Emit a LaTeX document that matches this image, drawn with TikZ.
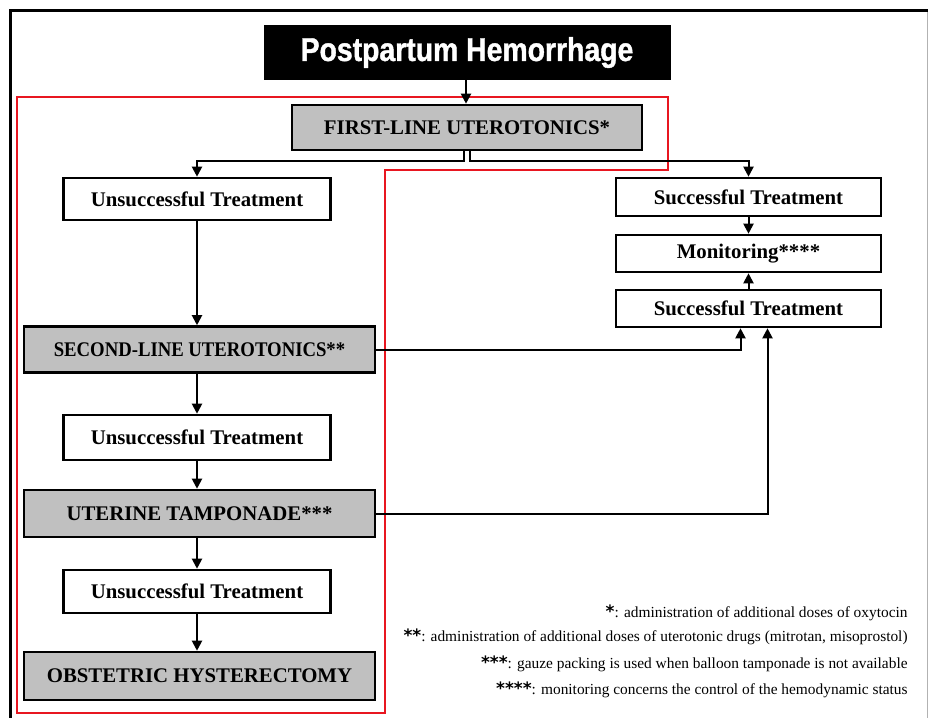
\documentclass[tikz,border=0pt]{standalone}
\usepackage{fontspec}
\setmainfont{Liberation Serif}
\newfontfamily\titlefont[FakeStretch=0.86,FakeBold=1.2]{Liberation Sans}
\newfontfamily\condfont[FakeStretch=0.9]{Liberation Serif}
\newfontfamily\astfont{DejaVu Sans}
\usetikzlibrary{positioning,arrows.meta}

\definecolor{boxgray}{RGB}{192,192,192}
\definecolor{framered}{RGB}{232,22,32}
\newcommand{\notemark}[1]{{\astfont\bfseries\fontsize{8.5}{8.5}\selectfont #1}}

\begin{document}
\begin{tikzpicture}[x=0.5pt,y=-0.5pt,
    box/.style={draw=black, line width=1.3pt, fill=white, inner sep=2pt,
        minimum width=133.5pt, minimum height=21pt,
        font=\fontsize{10.4}{12}\selectfont\bfseries},
    graybox/.style={box, fill=boxgray, minimum width=175.5pt, minimum height=23pt},
    arr/.style={line width=1pt, -{Triangle[length=5pt,width=5pt]}},
    note/.style={anchor=east, inner sep=0pt, font=\fontsize{7.7}{9}\selectfont}]
    \useasboundingbox (0,0) rectangle (928,718);
    % frame
    \draw[line width=1.5pt] (10.5,718) -- (10.5,10.5) -- (928,10.5);
    \draw[black!30, line width=0.5pt] (927,12) -- (927,718);
    \draw[framered, line width=1pt] (17,97) -- (668,97) -- (668,170) -- (385,170)
        -- (385,713) -- (17,713) -- cycle;
    % title
    \node[fill=black, minimum width=203.5pt, minimum height=27.5pt, inner sep=0pt,
        text=white, font=\titlefont\fontsize{16.5}{20}\selectfont\bfseries] (pph) at (467,52.5) {Postpartum Hemorrhage};
    % left column
    \node[graybox, minimum width=175pt, minimum height=22.5pt] (first) at (467,127.5) {FIRST-LINE UTEROTONICS*};
    \node[box] (uns1) at (197,199) {Unsuccessful Treatment};
    \node[graybox] (second) at (199.5,349.5) {\condfont SECOND-LINE UTEROTONICS**};
    \node[box, minimum height=22.5pt] (uns2) at (197,437.5) {Unsuccessful Treatment};
    \node[graybox, minimum height=23.5pt] (tamp) at (199.5,513.5) {UTERINE TAMPONADE***};
    \node[box, minimum height=21.5pt] (uns3) at (197,591.5) {Unsuccessful Treatment};
    \node[graybox, minimum height=24pt] (hyst) at (199.5,676) {OBSTETRIC HYSTERECTOMY};
    % right column
    \node[box, minimum width=132.5pt, minimum height=19pt] (succ1) at (748.5,197) {Successful Treatment};
    \node[box, minimum width=132.5pt, minimum height=18.5pt] (monit) at (748.5,253.5) {Monitoring****};
    \node[box, minimum width=132.5pt, minimum height=18.5pt] (succ2) at (748.5,308.5) {Successful Treatment};
    % connectors
    \draw[arr] ([xshift=-0.5pt]pph.south) -- ([xshift=-0.5pt]first.north);
    \draw[arr] ([xshift=-1.5pt]first.south) -- ++(0,10) -| (uns1.north -| 197,0);
    \draw[arr] ([xshift=1.5pt]first.south) -- ++(0,10) -| (succ1.north);
    \draw[arr] (uns1.south -| 197,0) -- (second.north -| 197,0);
    \draw[arr] (second.south -| 197,0) -- (uns2.north -| 197,0);
    \draw[arr] (uns2.south -| 197,0) -- (tamp.north -| 197,0);
    \draw[arr] (tamp.south -| 197,0) -- (uns3.north -| 197,0);
    \draw[arr] (uns3.south -| 197,0) -- (hyst.north -| 197,0);
    \draw[arr] (succ1) -- (monit);
    \draw[arr] (succ2) -- (monit);
    \draw[arr] (second.east) -| ([xshift=-4pt]succ2.south);
    \draw[arr] (tamp.east) -| ([xshift=9.5pt]succ2.south);
    % footnotes
    \node[note] (n1) at (908,613) {\notemark{*}: administration of additional doses of oxytocin};
    \node[note] (n2) at (908,637) {\notemark{**}: administration of additional doses of uterotonic drugs (mitrotan, misoprostol)};
    \node[note] (n3) at (908,664) {\notemark{***}: gauze packing is used when balloon tamponade is not available};
    \node[note] (n4) at (908,690) {\notemark{****}: monitoring concerns the control of the hemodynamic status};
\end{tikzpicture}
\end{document}
